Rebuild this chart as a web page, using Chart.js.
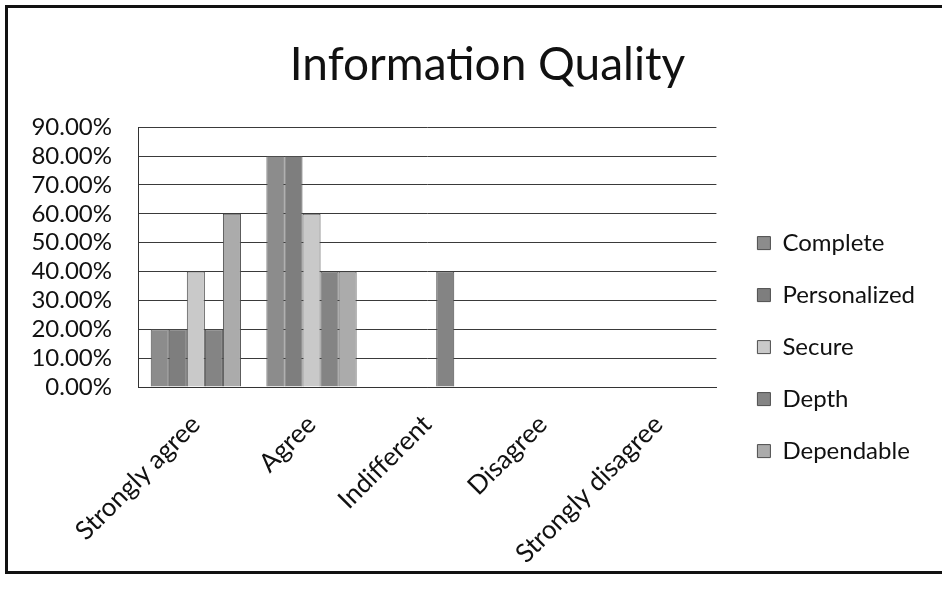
<!DOCTYPE html>
<html>
<head>
<meta charset="utf-8">
<title>Information Quality</title>
<script src="https://cdn.jsdelivr.net/npm/chart.js@4/dist/chart.umd.min.js"></script>
<style>
  html, body { margin: 0; padding: 0; background: #fff; }
  #wrap { position: relative; width: 942px; height: 589px; overflow: hidden; }
  #frame {
    position: absolute; left: 5px; top: 5px; width: 960px; height: 563px;
    border: 3px solid #111; pointer-events: none;
  }
  canvas { position: absolute; left: 0; top: 0; }
</style>
</head>
<body>
<div id="wrap">
  <canvas id="chart" width="942" height="589"></canvas>
  <div id="frame"></div>
</div>
<script>
// Survey answers, one array per attribute (percent of respondents)
const categories = ['Strongly agree', 'Agree', 'Indifferent', 'Disagree', 'Strongly disagree'];
const seriesNames = ['Complete', 'Personalized', 'Secure', 'Depth', 'Dependable'];
const complete     = [20, 80, 0, 0, 0];
const personalized = [20, 80, 0, 0, 0];
const secure       = [40, 60, 0, 0, 0];
const depth        = [20, 40, 40, 0, 0];
const dependable   = [60, 40, 0, 0, 0];
const yTickMax = 90;
const yTickStep = 10;

const seriesValues = [complete, personalized, secure, depth, dependable];
const seriesColors = ['#8c8c8c', '#7e7e7e', '#c9c9c9', '#848484', '#ababab'];

const FONT = 'Lato, "Liberation Sans", sans-serif';

const datasets = seriesNames.map((name, i) => ({
  label: name,
  data: seriesValues[i],
  backgroundColor: seriesColors[i],
  borderColor: '#4d4d4d',
  borderWidth: 1,
  categoryPercentage: 0.78,
  barPercentage: 1.0
}));

// Nudge the title block to the right so it sits over plot + legend
const titleShift = {
  id: 'titleShift',
  afterLayout(chart) {
    const t = chart.titleBlock;
    if (t) { t.left += 10; t.right += 10; }
  }
};

new Chart(document.getElementById('chart'), {
  type: 'bar',
  data: { labels: categories, datasets },
  plugins: [titleShift],
  options: {
    responsive: false,
    animation: false,
    devicePixelRatio: 1,
    layout: { padding: { left: 30, right: 17, top: 10, bottom: 0 } },
    plugins: {
      tooltip: { enabled: false },
      title: {
        display: true,
        text: 'Information Quality',
        color: '#111',
        font: { family: FONT, size: 46, weight: 'normal' },
        padding: { top: 28, bottom: 34 }
      },
      legend: {
        position: 'right',
        align: 'center',
        maxWidth: 260,
        title: { display: true, text: ' ', font: { size: 1 }, padding: { top: 94, bottom: 0 } },
        labels: {
          color: '#111',
          font: { family: FONT, size: 24 },
          boxWidth: 13,
          boxHeight: 13,
          padding: 28
        }
      }
    },
    scales: {
      x: {
        grid: { display: false, drawTicks: false },
        border: { display: true, color: '#333', width: 1 },
        ticks: {
          color: '#111',
          font: { family: FONT, size: 26 },
          minRotation: 45,
          maxRotation: 45,
          autoSkip: false,
          padding: 22
        },
        afterFit: (s) => { s.height = 202; }
      },
      y: {
        min: 0,
        max: yTickMax,
        grid: { color: '#3a3a3a', lineWidth: 1, drawTicks: false },
        border: { display: true, color: '#333', width: 1 },
        ticks: {
          stepSize: yTickStep,
          autoSkip: false,
          color: '#111',
          font: { family: FONT, size: 24 },
          padding: 26,
          callback: (v) => v.toFixed(2) + '%'
        },
        afterFit: (s) => { s.width = 108; }
      },
      spacer: {
        position: 'right',
        display: true,
        grid: { display: false, drawTicks: false },
        border: { display: false },
        ticks: { display: false },
        afterFit: (s) => { s.width = 13; }
      }
    }
  }
});
</script>
</body>
</html>
